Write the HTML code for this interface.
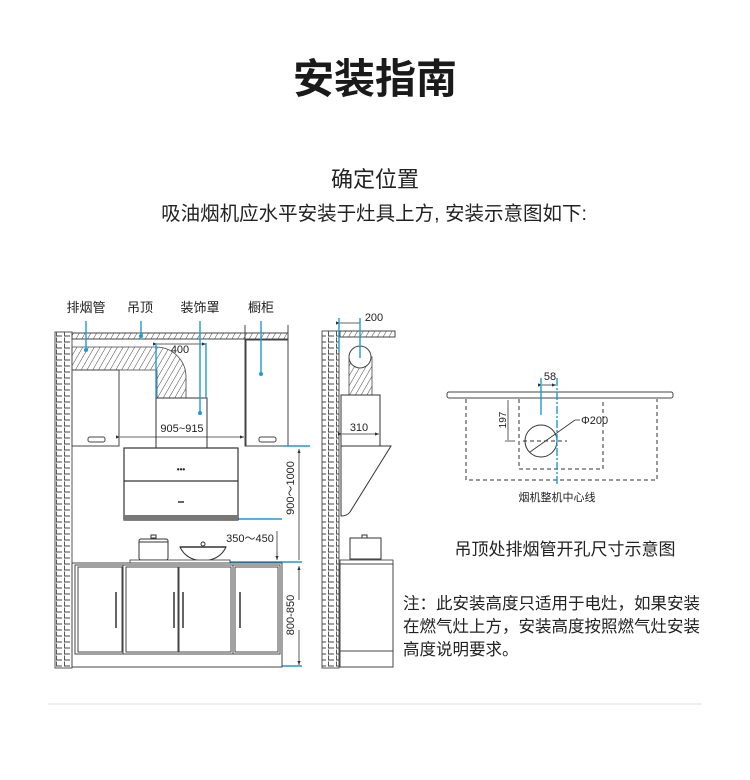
<!DOCTYPE html>
<html><head><meta charset="utf-8"><style>
html,body{margin:0;padding:0;background:#fff;}
svg{display:block;}
text{font-family:"Liberation Sans","Noto Sans CJK SC",sans-serif;fill:#222;}
</style></head><body>
<svg width="750" height="780" viewBox="0 0 750 780" xmlns="http://www.w3.org/2000/svg">
<defs>
<pattern id="brick" x="55" y="331" width="8" height="6" patternUnits="userSpaceOnUse">
<path d="M1.5,0.5 V5 H7" fill="none" stroke="#444" stroke-width="0.9"/>
</pattern>
<pattern id="hatch" width="5" height="5" patternUnits="userSpaceOnUse" patternTransform="rotate(30)">
<line x1="0" y1="0" x2="0" y2="5" stroke="#444" stroke-width="1"/>
</pattern>
<marker id="ar" markerWidth="6" markerHeight="6" refX="5" refY="3" orient="auto"><path d="M0,1 L5,3 L0,5 z" fill="#333"/></marker>
</defs>

<text x="375" y="93" font-size="41" text-anchor="middle" font-weight="bold" style="fill:#1a1a1a">安装指南</text>
<text x="375" y="187" font-size="22" text-anchor="middle">确定位置</text>
<text x="374" y="220" font-size="19.5" text-anchor="middle">吸油烟机应水平安装于灶具上方, 安装示意图如下:</text>

<!-- LEFT DIAGRAM -->
<g font-size="13">
<text x="86" y="312" text-anchor="middle">排烟管</text>
<text x="140" y="312" text-anchor="middle">吊顶</text>
<text x="200" y="312" text-anchor="middle">装饰罩</text>
<text x="261" y="312" text-anchor="middle">橱柜</text>
</g>
<rect x="55" y="332" width="17" height="336" fill="url(#brick)" stroke="#555" stroke-width="1"/>
<rect x="72" y="333" width="216" height="6" fill="url(#hatch)" stroke="#444" stroke-width="1"/>
<!-- duct -->
<path d="M72,347 H157 A30,30 0 0 1 186,377 V398 H157 V370 H72 Z" fill="url(#hatch)" stroke="#444" stroke-width="0.8"/>
<!-- cabinets -->
<rect x="72" y="370" width="47" height="76" fill="#fff" stroke="#444" stroke-width="1"/>
<rect x="88" y="437" width="17" height="5" rx="2" fill="none" stroke="#444"/>
<path d="M245,325 V446 H288 V325" fill="none" stroke="#444"/>
<rect x="246" y="340" width="42" height="106" fill="#fff" stroke="#444"/>
<rect x="259" y="437" width="17" height="5" rx="2" fill="none" stroke="#444"/>
<!-- cover -->
<rect x="156" y="398" width="51" height="50" fill="#fff" stroke="#333"/>
<text x="182" y="432" font-size="11" text-anchor="middle">905~915</text>
<line x1="120" y1="437" x2="244" y2="437" stroke="#333" marker-end="url(#ar)" marker-start="url(#ar)" stroke-width="0.8"/>
<line x1="157" y1="344" x2="206" y2="344" stroke="#333" stroke-width="0.8" marker-end="url(#ar)" marker-start="url(#ar)"/>
<text x="180" y="353" font-size="11" text-anchor="middle">400</text>
<!-- blue leaders -->
<g stroke="#1e9ad6" stroke-width="1.4">
<line x1="86" y1="321" x2="86" y2="349"/>
<line x1="141" y1="321" x2="141" y2="336"/>
<line x1="200" y1="321" x2="200" y2="412"/>
<line x1="261" y1="321" x2="261" y2="373"/>
<line x1="156" y1="343" x2="156" y2="398"/>
<line x1="206" y1="343" x2="206" y2="398"/>
<line x1="283" y1="446" x2="310" y2="446"/>
<line x1="238" y1="519" x2="282" y2="519"/>
<line x1="228" y1="562" x2="302" y2="562"/>
<line x1="282" y1="666" x2="302" y2="666"/>
</g>
<g fill="#1e9ad6"><circle cx="86" cy="350" r="2"/><circle cx="141" cy="336" r="2"/><circle cx="200" cy="413" r="2"/><circle cx="261" cy="374" r="2"/></g>
<!-- hood -->
<rect x="124" y="448" width="114" height="72" fill="#fff" stroke="#333" stroke-width="1.2"/>
<line x1="124" y1="481" x2="238" y2="481" stroke="#333" stroke-width="1.2"/>
<rect x="124" y="515" width="114" height="5" fill="#777"/>
<text x="181" y="472" font-size="8" text-anchor="middle" font-weight="bold">•••</text>
<line x1="178" y1="502" x2="184" y2="502" stroke="#333" stroke-width="1.5"/>
<!-- dims -->
<line x1="299" y1="560" x2="299" y2="449" stroke="#333" stroke-width="0.8" marker-end="url(#ar)"/>
<text transform="translate(294,488) rotate(-90)" font-size="11" text-anchor="middle">900～1000</text>
<text x="250" y="542" font-size="11" text-anchor="middle">350～450</text>
<line x1="277" y1="531" x2="277" y2="560" stroke="#333" stroke-width="0.8" marker-end="url(#ar)"/>
<line x1="299" y1="600" x2="299" y2="566" stroke="#333" stroke-width="0.8" marker-end="url(#ar)"/>
<line x1="299" y1="630" x2="299" y2="665" stroke="#333" stroke-width="0.8" marker-end="url(#ar)"/>
<text transform="translate(294,615) rotate(-90)" font-size="11" text-anchor="middle">800-850</text>
<!-- pots -->
<rect x="139" y="539" width="29" height="21" rx="2" fill="#fff" stroke="#333"/>
<line x1="139" y1="542" x2="168" y2="542" stroke="#333"/>
<rect x="151" y="535" width="5" height="3" fill="none" stroke="#333"/>
<path d="M180,547 H226 Q220,560 203,561 Q186,560 180,547 Z" fill="#fff" stroke="#333"/>
<line x1="180" y1="547" x2="226" y2="547" stroke="#333" stroke-width="1.5"/>
<circle cx="203" cy="544" r="2" fill="none" stroke="#333"/>
<rect x="130" y="560" width="100" height="3" fill="#fff" stroke="#333" stroke-width="0.8"/>
<!-- base cabinets -->
<rect x="72" y="563" width="210" height="104" fill="#fff" stroke="#444"/>
<g fill="none" stroke="#444">
<rect x="78" y="567" width="44" height="85"/>
<rect x="126" y="567" width="52" height="85"/>
<rect x="179" y="567" width="52" height="85"/>
<rect x="235" y="567" width="43" height="85"/>
<rect x="123" y="565" width="110" height="89"/>
<rect x="75" y="565" width="48" height="89"/>
<rect x="233" y="565" width="47" height="89"/>
</g>
<g stroke="#333" stroke-width="1.5">
<line x1="116" y1="592" x2="116" y2="628"/>
<line x1="174" y1="592" x2="174" y2="628"/>
<line x1="183" y1="592" x2="183" y2="628"/>
<line x1="240" y1="592" x2="240" y2="628"/>
</g>

<!-- MIDDLE DIAGRAM -->
<rect x="322" y="331" width="17" height="337" fill="url(#brick)" stroke="#555"/>
<rect x="340" y="331" width="55" height="6" fill="url(#hatch)" stroke="#444"/>
<line x1="340" y1="323" x2="360" y2="323" stroke="#333" stroke-width="0.8" marker-start="url(#ar)"/>
<text x="374" y="321" font-size="11" text-anchor="middle">200</text>
<rect x="349" y="357" width="23" height="38" fill="url(#hatch)" stroke="#444" stroke-width="0.8"/>
<circle cx="360" cy="357" r="11" fill="#fff" stroke="#444"/>
<g stroke="#1e9ad6" stroke-width="1.4"><line x1="339" y1="318" x2="339" y2="352"/><line x1="360" y1="318" x2="360" y2="358"/></g>
<rect x="341" y="395" width="39" height="51" fill="#fff" stroke="#333"/>
<line x1="342" y1="434" x2="379" y2="434" stroke="#333" stroke-width="0.8" marker-end="url(#ar)" marker-start="url(#ar)"/>
<text x="359" y="431" font-size="11" text-anchor="middle">310</text>
<path d="M341,446 H391 L350,512 Q347,516 341,516 Z" fill="#fff" stroke="#333"/>
<rect x="350" y="538" width="31" height="21" fill="#fff" stroke="#333"/>
<rect x="362" y="535" width="5" height="3" fill="none" stroke="#333"/>
<rect x="340" y="560" width="53" height="4" fill="#fff" stroke="#333" stroke-width="0.8"/>
<rect x="340" y="564" width="53" height="103" fill="#fff" stroke="#444"/>
<line x1="340" y1="651" x2="393" y2="651" stroke="#444"/>

<!-- HOLE DIAGRAM -->
<rect x="447" y="392" width="226" height="6" rx="2" fill="#fff" stroke="#444"/>
<g fill="none" stroke="#333" stroke-dasharray="4,3" stroke-width="1">
<path d="M466,399 V480 H657 V399"/>
<path d="M519,399 V469 H603 V399"/>
<line x1="523" y1="441" x2="567" y2="441"/>
</g>
<circle cx="541" cy="441" r="16" fill="none" stroke="#333"/>
<line x1="530" y1="452" x2="575" y2="420" stroke="#333" stroke-width="0.8"/>
<line x1="575" y1="420" x2="580" y2="420" stroke="#333" stroke-width="0.8"/>
<text x="581" y="424" font-size="11">Φ200</text>
<line x1="508" y1="400" x2="508" y2="440" stroke="#333" stroke-width="0.8"/>
<line x1="505" y1="441" x2="515" y2="441" stroke="#333" stroke-width="0.8"/>
<text transform="translate(506,420) rotate(-90)" font-size="10" text-anchor="middle">197</text>
<line x1="542" y1="385" x2="556" y2="385" stroke="#333" stroke-width="0.8" marker-end="url(#ar)" marker-start="url(#ar)"/>
<text x="550" y="380" font-size="11" text-anchor="middle">58</text>
<line x1="541" y1="378" x2="541" y2="415" stroke="#1e9ad6" stroke-width="1.4"/>
<line x1="557" y1="378" x2="557" y2="486" stroke="#1e9ad6" stroke-width="1.4" stroke-dasharray="8,2,2,2"/>
<text x="557" y="501" font-size="11" text-anchor="middle">烟机整机中心线</text>
<text x="565" y="555" font-size="17" text-anchor="middle">吊顶处排烟管开孔尺寸示意图</text>
<g font-size="16.5">
<text x="403" y="609">注：此安装高度只适用于电灶，如果安装</text>
<text x="403" y="632">在燃气灶上方，安装高度按照燃气灶安装</text>
<text x="403" y="655">高度说明要求。</text>
</g>

<line x1="48" y1="704" x2="702" y2="704" stroke="#ddd" stroke-width="1"/>
</svg>
</body></html>
